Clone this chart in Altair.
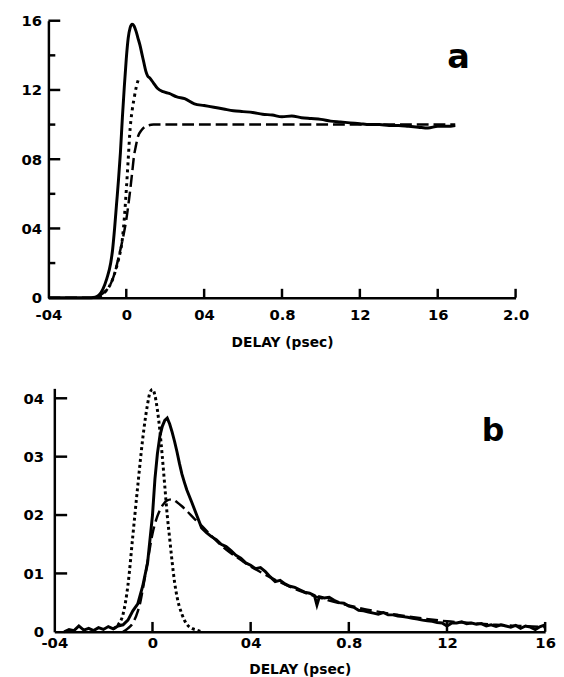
import altair as alt
import pandas as pd

# ---------------- Panel a ----------------
A_SOLID_X = [-0.40, -0.30, -0.20, -0.16, -0.14, -0.12, -0.10, -0.08, -0.07, -0.06, -0.05, -0.04, -0.03,
             -0.02, -0.01, 0.00, 0.01, 0.02, 0.03, 0.04, 0.05, 0.06, 0.07, 0.08, 0.09, 0.10, 0.11,
             0.12, 0.14, 0.16, 0.19, 0.22, 0.26, 0.30, 0.35, 0.40, 0.45, 0.50, 0.55, 0.60, 0.65,
             0.70, 0.75, 0.80, 0.85, 0.90, 0.95, 1.00, 1.05, 1.10, 1.15, 1.20, 1.25, 1.30, 1.35,
             1.40, 1.45, 1.50, 1.55, 1.60, 1.65, 1.69]
A_SOLID_Y = [0.0, 0.0, 0.0, 0.003, 0.015, 0.05, 0.11, 0.20, 0.28, 0.40, 0.54, 0.68, 0.84,
             1.04, 1.22, 1.38, 1.50, 1.56, 1.58, 1.57, 1.54, 1.50, 1.46, 1.41, 1.36, 1.31, 1.28,
             1.27, 1.24, 1.21, 1.19, 1.18, 1.16, 1.15, 1.12, 1.11, 1.10, 1.09, 1.08, 1.075, 1.07,
             1.06, 1.055, 1.045, 1.05, 1.04, 1.035, 1.03, 1.02, 1.015, 1.01, 1.005, 1.0, 1.0, 0.995,
             0.995, 0.99, 0.985, 0.98, 0.99, 0.99, 0.995]

A_DOT_X = [-0.14, -0.12, -0.10, -0.08, -0.06, -0.04, -0.02, -0.01, 0.00, 0.01, 0.02, 0.03, 0.04, 0.05, 0.065]
A_DOT_Y = [0.005, 0.02, 0.045, 0.08, 0.14, 0.22, 0.34, 0.46, 0.62, 0.80, 0.98, 1.08, 1.15, 1.21, 1.27]

A_DASH_X = [-0.40, -0.16, -0.14, -0.12, -0.10, -0.08, -0.06, -0.04, -0.02, 0.00, 0.01, 0.02, 0.03,
            0.04, 0.05, 0.06, 0.08, 0.10, 0.14, 0.20, 0.40, 0.60, 0.80, 1.00, 1.20, 1.40, 1.69]
A_DASH_Y = [0.0, 0.0, 0.01, 0.025, 0.045, 0.08, 0.14, 0.23, 0.33, 0.45, 0.53, 0.62, 0.72,
            0.82, 0.88, 0.93, 0.97, 0.99, 1.0, 1.0, 1.0, 1.0, 1.0, 1.0, 1.0, 1.0, 1.0]

A_X_TICKS = [-0.4, 0.0, 0.4, 0.8, 1.2, 1.6, 2.0]
A_X_TEXT = ["-04", "0", "04", "0.8", "12", "16", "2.0"]
A_Y_TICKS = [0.0, 0.4, 0.8, 1.2, 1.6]
A_Y_TEXT = ["0", "04", "08", "12", "16"]
A_Y_MINOR = [0.2, 0.6, 1.0, 1.4]

# ---------------- Panel b ----------------
B_SOLID_X = [-0.36, -0.34, -0.32, -0.30, -0.28, -0.26, -0.24, -0.22, -0.20, -0.18, -0.16, -0.14, -0.12,
             -0.10, -0.08, -0.06, -0.04, -0.02, 0.00, 0.01, 0.02, 0.03, 0.04, 0.05, 0.06, 0.07, 0.08,
             0.09, 0.10, 0.11, 0.12, 0.13, 0.14, 0.16, 0.18, 0.20, 0.22, 0.24, 0.26, 0.28, 0.30,
             0.32, 0.34, 0.36, 0.38, 0.40, 0.42, 0.44, 0.46, 0.48, 0.50, 0.52, 0.54, 0.56, 0.58,
             0.60, 0.62, 0.64, 0.66, 0.67, 0.68, 0.70, 0.72, 0.74, 0.76, 0.78, 0.80, 0.82, 0.84,
             0.86, 0.88, 0.90, 0.92, 0.94, 0.96, 0.98, 1.00, 1.02, 1.04, 1.06, 1.08, 1.10, 1.12,
             1.14, 1.16, 1.18, 1.20, 1.22, 1.24, 1.26, 1.28, 1.30, 1.32, 1.34, 1.36, 1.38, 1.40,
             1.42, 1.44, 1.46, 1.48, 1.50, 1.52, 1.54, 1.56, 1.58, 1.60]
B_SOLID_Y = [0.0, 0.004, 0.002, 0.010, 0.003, 0.006, 0.002, 0.007, 0.004, 0.009, 0.005, 0.010, 0.012,
             0.020, 0.036, 0.048, 0.078, 0.118, 0.200, 0.262, 0.305, 0.335, 0.352, 0.362, 0.366, 0.356, 0.342,
             0.326, 0.308, 0.288, 0.270, 0.256, 0.243, 0.222, 0.200, 0.178, 0.170, 0.163, 0.158, 0.150, 0.146,
             0.139, 0.131, 0.126, 0.118, 0.114, 0.108, 0.110, 0.103, 0.094, 0.086, 0.088, 0.082, 0.078, 0.076,
             0.072, 0.068, 0.066, 0.062, 0.046, 0.060, 0.058, 0.059, 0.054, 0.050, 0.049, 0.044, 0.042, 0.037,
             0.036, 0.034, 0.032, 0.030, 0.033, 0.029, 0.029, 0.027, 0.026, 0.025, 0.023, 0.022, 0.020, 0.019,
             0.018, 0.016, 0.015, 0.010, 0.015, 0.015, 0.017, 0.014, 0.015, 0.013, 0.014, 0.010, 0.012, 0.009,
             0.012, 0.010, 0.008, 0.011, 0.006, 0.010, 0.008, 0.004, 0.009, 0.012]

B_DASH_X = [-0.12, -0.10, -0.08, -0.06, -0.05, -0.04, -0.02, 0.00, 0.02, 0.04, 0.06, 0.08, 0.10,
            0.12, 0.14, 0.17, 0.20, 0.25, 0.30, 0.35, 0.40, 0.45, 0.50, 0.60, 0.70, 0.80, 0.90,
            1.00, 1.10, 1.20, 1.30, 1.40, 1.50, 1.60]
B_DASH_Y = [0.0, 0.006, 0.015, 0.035, 0.05, 0.072, 0.12, 0.168, 0.198, 0.216, 0.225, 0.227, 0.222,
            0.215, 0.207, 0.194, 0.182, 0.160, 0.141, 0.126, 0.112, 0.100, 0.089, 0.070, 0.056, 0.045, 0.036,
            0.029, 0.023, 0.018, 0.015, 0.012, 0.010, 0.008]

B_DOT_X = [-0.16, -0.14, -0.12, -0.10, -0.08, -0.06, -0.04, -0.03, -0.02, -0.01, 0.00, 0.01, 0.02, 0.03,
           0.04, 0.05, 0.06, 0.07, 0.08, 0.09, 0.10, 0.12, 0.14, 0.16, 0.18, 0.20]
B_DOT_Y = [0.005, 0.012, 0.03, 0.08, 0.165, 0.25, 0.33, 0.363, 0.39, 0.41, 0.415, 0.405, 0.38, 0.345,
           0.30, 0.25, 0.20, 0.16, 0.12, 0.085, 0.06, 0.03, 0.013, 0.006, 0.003, 0.0]

B_X_TICKS = [-0.4, 0.0, 0.4, 0.8, 1.2, 1.6]
B_X_TEXT = ["-04", "0", "04", "0.8", "12", "16"]
B_Y_TICKS = [0.0, 0.1, 0.2, 0.3, 0.4]
B_Y_TEXT = ["0", "01", "02", "03", "04"]

FONT = "DejaVu Sans"


def label_expr(values, texts):
    expr = "''"
    for v, t in reversed(list(zip(values, texts))):
        expr = f"abs(datum.value - ({v})) < 1e-6 ? '{t}' : ({expr})"
    return expr


def panel(series, xdom, ydom, xt, xtxt, yt, ytxt, ymajor, yminor, xup, letter,
          w, h, letter_xy, letter_size, xlabpad, xtitlepad, ylabpad, ytick_len, xtick_len,
          shift=0):
    # shift: the data rectangle starts `shift` px right of the group origin
    if shift:
        xs = alt.Scale(domain=xdom, nice=False, zero=False, range=[shift, w + shift])
    else:
        xs = alt.Scale(domain=xdom, nice=False, zero=False)
    ys = alt.Scale(domain=ydom, nice=False, zero=False)
    xaxis = alt.Axis(values=xt, labelExpr=label_expr(xt, xtxt), title="DELAY (psec)",
                     labelPadding=xlabpad, titlePadding=xtitlepad, labelFlush=False)
    ykw = dict(values=yt, labelExpr=label_expr(yt, ytxt), title=None, labelPadding=ylabpad)
    if shift:
        ykw["offset"] = -shift
    yaxis = alt.Axis(**ykw)
    X = lambda f: alt.X(f, scale=xs, axis=xaxis)
    Y = lambda f: alt.Y(f, scale=ys, axis=yaxis)
    xpp = (xdom[1] - xdom[0]) / w   # data units per pixel
    ypp = (ydom[1] - ydom[0]) / h
    layers = []
    for sx, sy, dash, sw, interp in series:
        df = pd.DataFrame({"x": sx, "y": sy})
        kw = dict(color="black", strokeWidth=sw, interpolate=interp, strokeCap="butt")
        if dash:
            kw["strokeDash"] = dash
        layers.append(
            alt.Chart(df).mark_line(**kw).encode(x=X("x:Q"), y=Y("y:Q"), order="x:Q")
        )
    # inward ticks on the y axis (major and minor)
    ticks_y = pd.DataFrame({"y": list(ymajor) + list(yminor),
                            "len": [ytick_len] * len(ymajor) + [7] * len(yminor)})
    layers.append(
        alt.Chart(ticks_y).transform_calculate(
            tx0="%r" % xdom[0], tx1="%r + datum.len * %r" % (xdom[0], xpp)
        ).mark_rule(color="black", strokeWidth=2.5).encode(
            y=Y("y:Q"), x=X("tx0:Q"), x2="tx1:Q")
    )
    # upward ticks on the x axis
    ticks_x = pd.DataFrame({"x": xup})
    layers.append(
        alt.Chart(ticks_x).transform_calculate(
            ty0="%r" % ydom[0], ty1="%r + %d * %r" % (ydom[0], xtick_len, ypp)
        ).mark_rule(color="black", strokeWidth=2.5).encode(
            x=X("x:Q"), y=Y("ty0:Q"), y2="ty1:Q")
    )
    txt = pd.DataFrame({"t": [letter]})
    layers.append(alt.Chart(txt).mark_text(font=FONT, fontWeight="bold", fontSize=letter_size,
                                           color="black", align="center", baseline="middle").encode(
        text="t:N", x=alt.value(letter_xy[0] + shift), y=alt.value(letter_xy[1])))
    return alt.layer(*layers).properties(width=w + shift, height=h)


top = panel(
    [(A_SOLID_X, A_SOLID_Y, None, 3, "monotone"),
     (A_DASH_X, A_DASH_Y, [12, 5], 2.5, "monotone"),
     (A_DOT_X, A_DOT_Y, [3, 4], 3, "monotone")],
    [-0.4, 2.0], [0, 1.6], A_X_TICKS, A_X_TEXT, A_Y_TICKS, A_Y_TEXT,
    [0.4, 0.8, 1.2, 1.6], A_Y_MINOR, [0.0, 0.4, 0.8, 1.2, 1.6, 2.0], "a",
    474, 281, (416, 38), 34, 10, 14, 7, 12, 9)

bottom = panel(
    [(B_SOLID_X, B_SOLID_Y, None, 3, "linear"),
     (B_DASH_X, B_DASH_Y, [12, 5], 2.5, "monotone"),
     (B_DOT_X, B_DOT_Y, [3, 3], 3, "monotone")],
    [-0.4, 1.6], [0, 0.417], B_X_TICKS, B_X_TEXT, B_Y_TICKS, B_Y_TEXT,
    [0.1, 0.2, 0.3, 0.4], [], [0.0, 0.4, 0.8, 1.2, 1.6], "b",
    498, 247, (445, 43), 32, 4, 12, 11, 13, 10, shift=6)

chart = alt.vconcat(top, bottom, spacing=34).properties(
    padding={"left": 13, "top": 1, "right": 0, "bottom": 0}
).configure_view(stroke=None).configure_axis(
    domainColor="black", domainWidth=2.5, ticks=False, grid=False,
    labelFont=FONT, labelFontWeight="bold", labelFontSize=15, labelColor="black",
    titleFont=FONT, titleFontWeight="bold", titleFontSize=14, titleColor="black",
)

chart.save("out.html", embed_options={"renderer": "svg", "actions": False})
